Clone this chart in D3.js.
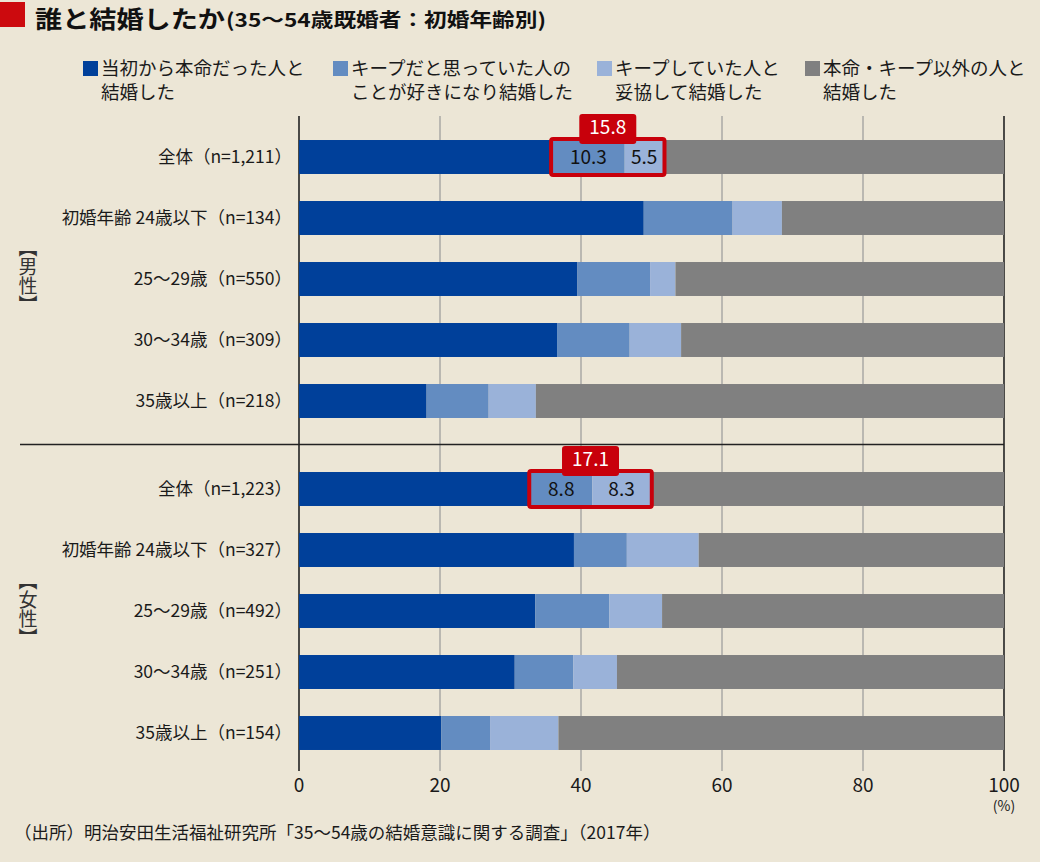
<!DOCTYPE html>
<html><head><meta charset="utf-8">
<script src="https://cdn.jsdelivr.net/npm/d3@7"></script>
<style>
html,body{margin:0;padding:0;background:#ece6d6;}
svg{display:block;font-family:"Noto Sans CJK JP","Noto Sans",sans-serif;}
</style></head>
<body><svg id="c" width="1040" height="862"></svg>
<script>
const seriesNames = [["当初から本命だった人と","結婚した"],["キープだと思っていた人の","ことが好きになり結婚した"],["キープしていた人と","妥協して結婚した"],["本命・キープ以外の人と","結婚した"]];
const seriesColors = ["#00409a","#638cc1","#9ab2d9","#808080"];
const maleCats = ["全体（n=1,211）","初婚年齢 24歳以下（n=134）","25〜29歳（n=550）","30〜34歳（n=309）","35歳以上（n=218）"];
const femaleCats = ["全体（n=1,223）","初婚年齢 24歳以下（n=327）","25〜29歳（n=492）","30〜34歳（n=251）","35歳以上（n=154）"];
// share (%) of the first three series; the fourth is the remainder to 100
const maleHonmei = [35.9, 48.9, 39.5, 36.6, 18.1];
const maleKeepLove = [10.3, 12.6, 10.3, 10.3, 8.8];
const maleKeepDakyo = [5.5, 7.0, 3.6, 7.3, 6.7];
const femaleHonmei = [32.8, 39.0, 33.5, 30.6, 20.2];
const femaleKeepLove = [8.8, 7.5, 10.5, 8.3, 6.9];
const femaleKeepDakyo = [8.3, 10.2, 7.5, 6.2, 9.7];
const calloutTotals = ["15.8","17.1"];
const xTicks = [0,20,40,60,80,100];

const svg = d3.select("#c");
const x = d3.scaleLinear().domain([0,100]).range([299,1004]);
const yMale = d3.scaleBand().domain(maleCats).range([126.5,431.5]).paddingInner(0.443).paddingOuter(0.2215);
const yFemale = d3.scaleBand().domain(femaleCats).range([458.5,763.5]).paddingInner(0.443).paddingOuter(0.2215);

// title
svg.append("rect").attr("x",0).attr("y",2).attr("width",25).attr("height",25).attr("fill","#cc0a0e");
svg.append("text").attr("x",35).attr("y",28).attr("font-size",24).attr("font-weight",700).attr("fill","#111")
  .attr("textLength",190).attr("lengthAdjust","spacingAndGlyphs").text("誰と結婚したか");
svg.append("text").attr("x",226).attr("y",27).attr("font-size",19).attr("font-weight",700).attr("fill","#111")
  .attr("textLength",320).attr("lengthAdjust","spacingAndGlyphs").text("(35〜54歳既婚者：初婚年齢別)");

// legend
const legX = [83,333,597,805];
seriesNames.forEach((lines,i)=>{
  svg.append("rect").attr("x",legX[i]).attr("y",61).attr("width",15).attr("height",15).attr("fill",seriesColors[i]);
  lines.forEach((t,j)=>{
    svg.append("text").attr("x",legX[i]+18).attr("y",75+j*24).attr("font-size",18.5).attr("fill","#1a1a1a").text(t);
  });
});

// gridlines
svg.append("g").selectAll("line").data(xTicks).join("line")
  .attr("x1",d=>x(d)).attr("x2",d=>x(d)).attr("y1",116).attr("y2",771)
  .attr("stroke",d=>(d===0||d===100)?"#222":"#999").attr("stroke-width",d=>(d===0||d===100)?1.6:1.2);

// divider
svg.append("line").attr("x1",20).attr("x2",1004).attr("y1",444.5).attr("y2",444.5).attr("stroke","#222").attr("stroke-width",1.4);

function drawGroup(cats, a, b, c, yS, total){
  const rows = cats.map((cat,i)=>{
    const v=[a[i],b[i],c[i],100-a[i]-b[i]-c[i]];
    let acc=0; const segs=v.map((val,k)=>{const s={k,x0:acc,x1:acc+val,val};acc+=val;return s;});
    return {cat,segs};
  });
  const g=svg.append("g");
  rows.forEach(r=>{
    g.selectAll(null).data(r.segs).join("rect")
      .attr("x",d=>x(d.x0)).attr("width",d=>x(d.x1)-x(d.x0))
      .attr("y",yS(r.cat)).attr("height",yS.bandwidth()).attr("fill",d=>seriesColors[d.k]);
    g.append("text").attr("x",292).attr("y",yS(r.cat)+yS.bandwidth()/2+6).attr("text-anchor","end")
      .attr("font-size",17.5).attr("fill","#1a1a1a").text(r.cat);
  });
  // callout on first row
  const r=rows[0], top=yS(r.cat), h=yS.bandwidth();
  const bx0=x(r.segs[1].x0)-1, bx1=x(r.segs[2].x1)+1;
  const cx=(bx0+bx1)/2;
  g.append("rect").attr("x",cx-28.5).attr("y",top-26).attr("width",57).attr("height",30).attr("rx",3).attr("fill","#c8000b");
  g.append("text").attr("x",cx).attr("y",top-6).attr("text-anchor","middle").attr("font-size",19).attr("fill","#fff").text(total);
  g.append("rect").attr("x",bx0).attr("y",top-1).attr("width",bx1-bx0).attr("height",h+2).attr("rx",2)
    .attr("fill","none").attr("stroke","#c8000b").attr("stroke-width",4);
  [1,2].forEach(k=>{
    const s=r.segs[k];
    g.append("text").attr("x",(x(s.x0)+x(s.x1))/2).attr("y",top+h/2+7).attr("text-anchor","middle")
      .attr("font-size",19).attr("fill","#111").text(d3.format(".1f")(s.val));
  });
}
drawGroup(maleCats,maleHonmei,maleKeepLove,maleKeepDakyo,yMale,calloutTotals[0]);
drawGroup(femaleCats,femaleHonmei,femaleKeepLove,femaleKeepDakyo,yFemale,calloutTotals[1]);

// group labels (vertical)
svg.append("text").attr("x",28).attr("y",276).attr("text-anchor","middle").attr("font-size",19).attr("fill","#333")
  .attr("writing-mode","vertical-rl").text("【男性】");
svg.append("text").attr("x",28).attr("y",609).attr("text-anchor","middle").attr("font-size",19).attr("fill","#333")
  .attr("writing-mode","vertical-rl").text("【女性】");

// x axis labels
svg.append("g").selectAll("text").data(xTicks).join("text")
  .attr("x",d=>x(d)).attr("y",792).attr("text-anchor","middle").attr("font-size",19).attr("fill","#1a1a1a").text(d=>d);
svg.append("text").attr("x",x(100)).attr("y",811).attr("text-anchor","middle").attr("font-size",14).attr("fill","#1a1a1a").text("(%)");

// source
svg.append("text").attr("x",14).attr("y",839).attr("font-size",17.5).attr("fill","#1a1a1a")
  .text("（出所）明治安田生活福祉研究所「35〜54歳の結婚意識に関する調査」（2017年）");
</script></body></html>
